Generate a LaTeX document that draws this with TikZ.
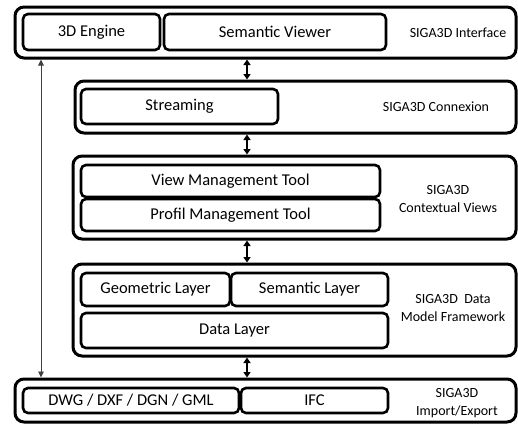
\documentclass[tikz,border=0pt]{standalone}
\usepackage{fontspec}
\setmainfont{Carlito}
\usetikzlibrary{arrows.meta}
\begin{document}
\begin{tikzpicture}[x=1pt,y=-1pt,
  layer/.style={draw=black,line width=3pt,rounded corners=9pt,inner sep=0pt},
  part/.style={draw=black,line width=2.6pt,rounded corners=5pt,inner sep=0pt,font=\fontsize{16.5}{18}\selectfont},
  tag/.style={align=center,font=\fontsize{14}{17.5}\selectfont,inner sep=0pt},
  link/.style={line width=1.6pt,{Triangle[length=5.5pt,width=7pt]}-{Triangle[length=5.5pt,width=7pt]}},
  bypass/.style={line width=0.9pt,draw=black!75,{Triangle[length=6pt,width=5.5pt]}-{Triangle[length=6pt,width=5.5pt]}}]
\useasboundingbox (0,0) rectangle (518,432);

% SIGA3D Interface
\node[layer,minimum width=501pt,minimum height=51pt] (iface) at (265.5,32.5) {};
\node[part,minimum width=137pt,minimum height=36pt] (engine) at (91.5,32) {3D Engine};
\node[part,minimum width=222pt,minimum height=36pt] (viewer) at (275,32) {Semantic Viewer};
\node[tag] (ifacelbl) at (458,33) {SIGA3D Interface};

% SIGA3D Connexion
\node[layer,minimum width=441pt,minimum height=52pt] (conn) at (295.5,107) {};
\node[part,minimum width=197pt,minimum height=35pt] (stream) at (179.5,106.5) {Streaming};
\node[tag] (connlbl) at (436,107) {SIGA3D Connexion};

% SIGA3D Contextual Views
\node[layer,minimum width=443pt,minimum height=83pt] (ctx) at (294.5,197.5) {};
\node[part,minimum width=299pt,minimum height=32pt] (view) at (230.5,181) {View Management Tool};
\node[part,minimum width=299pt,minimum height=32pt] (profil) at (230.5,215) {Profil Management Tool};
\node[tag] (ctxlbl) at (448,199) {SIGA3D\\Contextual Views};

% SIGA3D Data Model Framework
\node[layer,minimum width=443pt,minimum height=92pt] (data) at (294.5,310) {};
\node[part,minimum width=149pt,minimum height=33pt] (geom) at (155.5,289.5) {Geometric Layer};
\node[part,minimum width=157pt,minimum height=33pt] (sem) at (309.5,289.5) {Semantic Layer};
\node[part,minimum width=307pt,minimum height=35pt] (dlayer) at (234.5,330.5) {Data Layer};
\node[tag] (datalbl) at (453,308) {SIGA3D~~Data\\Model Framework};

% SIGA3D Import/Export
\node[layer,minimum width=501pt,minimum height=43pt] (imp) at (265.5,400.5) {};
\node[part,minimum width=216pt,minimum height=25pt] (dwg) at (131,400.5) {DWG / DXF / DGN / GML};
\node[part,minimum width=147pt,minimum height=25pt] (ifc) at (314.5,400.5) {IFC};
\node[tag] (implbl) at (457,403) {SIGA3D\\Import/Export};

% connectors between layers
\coordinate (ax) at (247,0);
\coordinate (lx) at (41,0);
\draw[link] (iface.south -| ax) -- (conn.north -| ax);
\draw[link] (conn.south -| ax) -- (ctx.north -| ax);
\draw[link] (ctx.south -| ax) -- (data.north -| ax);
\draw[link] (data.south -| ax) -- (imp.north -| ax);
\draw[bypass] (iface.south -| lx) -- (imp.north -| lx);
\end{tikzpicture}
\end{document}
